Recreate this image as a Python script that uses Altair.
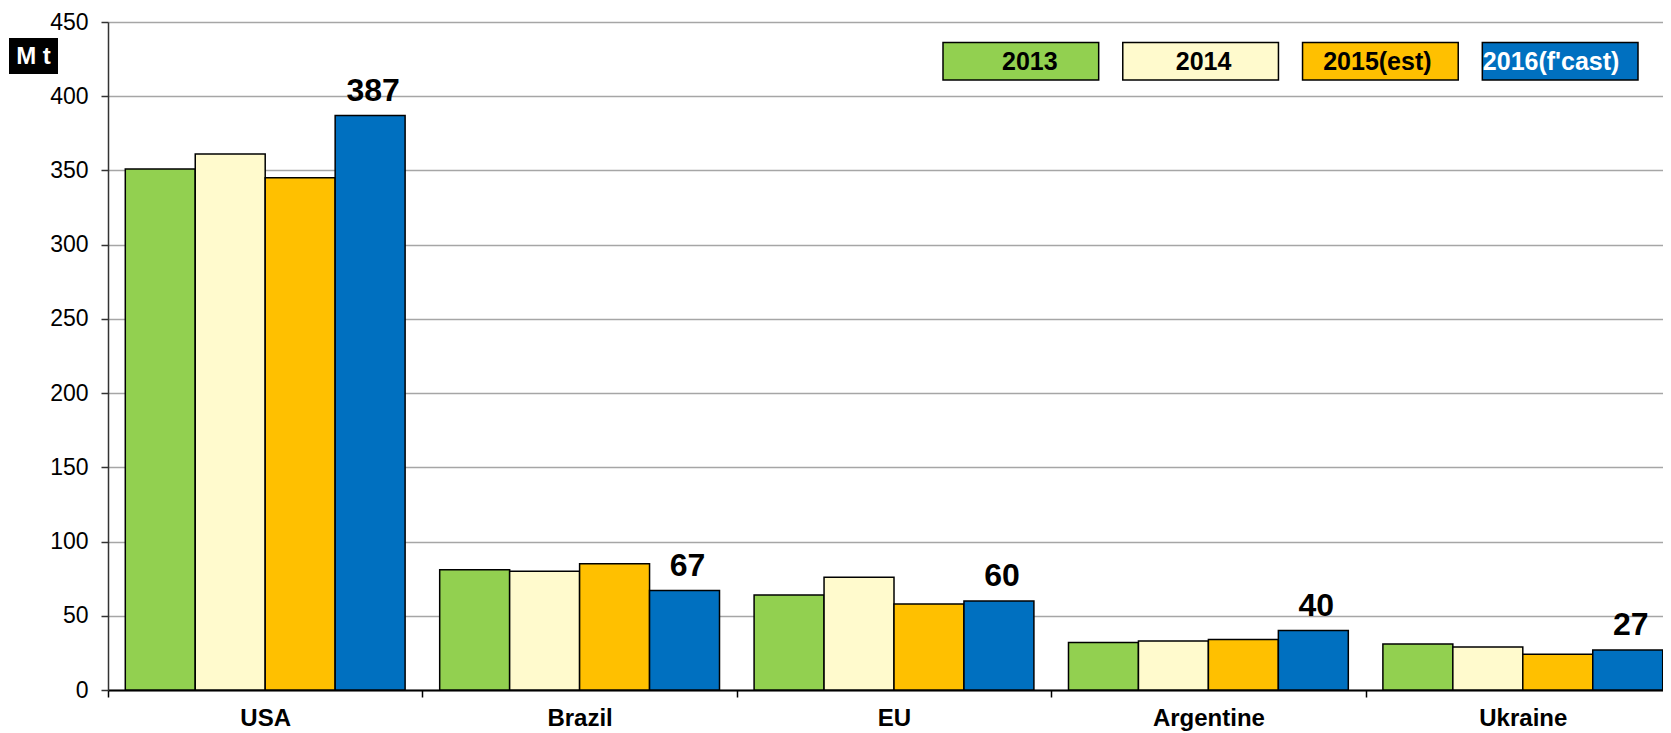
import altair as alt
import pandas as pd

countries = ["USA", "Brazil", "EU", "Argentine", "Ukraine"]
series = ["2013", "2014", "2015(est)", "2016(f'cast)"]
v2013 = [351, 81, 64, 32, 31]
v2014 = [361, 80, 76, 33, 29]
v2015 = [345, 85, 58, 34, 24]
v2016 = [387, 67, 60, 40, 27]
colors = ["#92D050", "#FFFACD", "#FFC000", "#0070C0"]
y_ticks = [0, 50, 100, 150, 200, 250, 300, 350, 400, 450]
unit_label = "M t"

rows = []
for s, vals in zip(series, [v2013, v2014, v2015, v2016]):
    for c, v in zip(countries, vals):
        rows.append({"country": c, "series": s, "value": v})
df = pd.DataFrame(rows)
lab_df = df[df["series"] == series[-1]]
leg_df = pd.DataFrame({"series": series})
unit_df = pd.DataFrame({"label": [unit_label]})

FONT = "Liberation Sans"

xscale = alt.Scale(domain=countries, range=[0, 1572], paddingInner=0.11, paddingOuter=0.055)
yscale = alt.Scale(domain=[0, 450], nice=False)
cscale = alt.Scale(domain=series, range=colors)

x_enc = alt.X("country:N", sort=countries, scale=xscale,
              axis=alt.Axis(title=None, bandPosition=0, tickOffset=-17.3, labelOffset=17.3,
                            labelAngle=0,
                            labelFont=FONT, labelFontSize=24, labelFontWeight="bold",
                            labelColor="black", labelBaseline="alphabetic", labelPadding=28,
                            tickSize=7, tickColor="black", tickWidth=1.5,
                            domainColor="black", domainWidth=2, grid=False))
xo_enc = alt.XOffset("series:N", sort=series, scale=alt.Scale(domain=series, paddingInner=0, paddingOuter=0))
y_enc = alt.Y("value:Q", scale=yscale,
              axis=alt.Axis(title=None, values=y_ticks, labelFont=FONT, labelFontSize=23,
                            labelColor="black", labelPadding=13, tickSize=7, tickColor="#333",
                            tickWidth=1.5, domainColor="#333", domainWidth=1.5,
                            grid=True, gridColor="#A6A6A6", gridWidth=1.5))

bars = alt.Chart(df).mark_bar(stroke="black", strokeWidth=1.5).encode(
    x=x_enc, xOffset=xo_enc, y=y_enc,
    color=alt.Color("series:N", scale=cscale, legend=None),
)

labels = alt.Chart(lab_df).mark_text(
    font=FONT, fontSize=32, fontWeight="bold", color="black",
    baseline="alphabetic", dy=-15, dx=3,
).encode(
    x=alt.X("country:N", sort=countries, scale=xscale, axis=None),
    xOffset=xo_enc,
    y=alt.Y("value:Q", scale=yscale),
    text=alt.Text("value:Q"),
)

leg_x = alt.X("series:N", sort=series,
              scale=alt.Scale(domain=series, range=[835, 1530], paddingInner=0.134, paddingOuter=0),
              axis=None)
leg_rect = alt.Chart(leg_df).mark_bar(stroke="black", strokeWidth=1.5).encode(
    x=leg_x,
    y=alt.value(20.6), y2=alt.value(58),
    color=alt.Color("series:N", scale=cscale, legend=None),
)
leg_text = alt.Chart(leg_df).mark_text(
    font=FONT, fontSize=25, fontWeight="bold", baseline="middle", align="center",
).encode(
    x=leg_x,
    y=alt.value(40),
    text="series:N",
    color=alt.condition(alt.datum.series == series[-1], alt.value("white"), alt.value("black")),
)

unit_rect = alt.Chart(unit_df).mark_rect(color="black").encode(
    x=alt.value(-99), x2=alt.value(-50), y=alt.value(16), y2=alt.value(52),
)
unit_text = alt.Chart(unit_df).mark_text(
    font=FONT, fontSize=24, fontWeight="bold", color="white", baseline="middle", align="center",
).encode(
    x=alt.value(-74.5), y=alt.value(34.5), text="label:N",
)

chart = alt.layer(bars, labels, leg_rect, leg_text, unit_rect, unit_text).resolve_scale(
    x="independent"
).properties(
    width=1555, height=668,
    autosize=alt.AutoSizeParams(type="none"),
    padding={"left": 100, "top": 14, "right": 0, "bottom": 43},
    background="white",
).configure_view(stroke=None)

chart.save("out.html", embed_options={"renderer": "svg", "actions": False})
